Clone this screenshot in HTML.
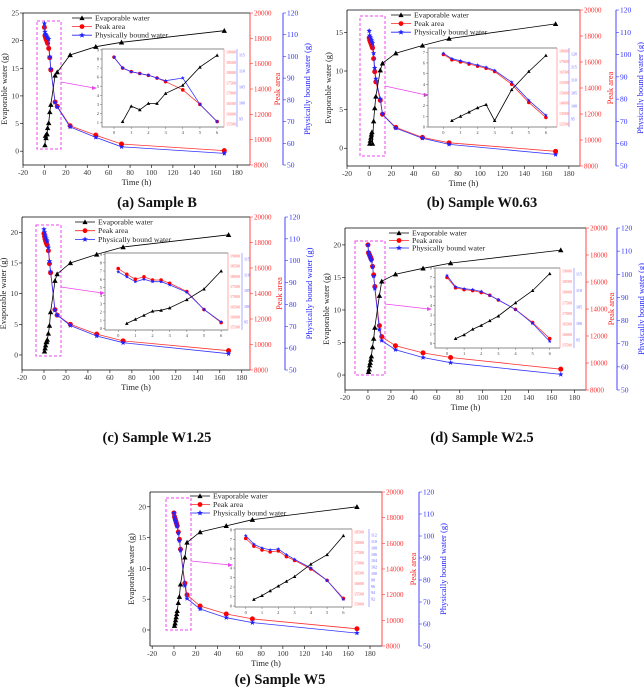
<!DOCTYPE html>
<html><head><meta charset="utf-8"><style>
body{margin:0;background:#fff;width:644px;height:691px;overflow:hidden}
svg{display:block}
text{font-family:"Liberation Serif",serif}
</style></head><body>
<svg id="s" width="644" height="691" viewBox="0 0 644 691" xmlns="http://www.w3.org/2000/svg"></svg>
<script>
const S=document.getElementById('s');let h='';
const T=[0,0.5,1,1.5,2,2.5,3,4,5,6,10,12,24,48,72,168];
const TI=[0,0.5,1,1.5,2,2.5,3,4,5,6];
function tri(x,y,s,c){return `<polygon points="${x},${y-s} ${x-s},${y+s*0.8} ${x+s},${y+s*0.8}" fill="${c}"/>`}
function star(x,y,r,c){let p=[];for(let i=0;i<10;i++){let a=-Math.PI/2+i*Math.PI/5,rr=i%2?r*0.45:r;p.push((x+rr*Math.cos(a)).toFixed(1)+','+(y+rr*Math.sin(a)).toFixed(1));}return `<polygon points="${p.join(' ')}" fill="${c}"/>`}
function series(pts,fx,fy,col,mk,sz){let d=pts.map(p=>fx(p[0]).toFixed(1)+','+fy(p[1]).toFixed(1)).join(' ');let o=`<polyline points="${d}" fill="none" stroke="${col}" stroke-width="0.8"/>`;pts.forEach(p=>{let x=fx(p[0]),y=fy(p[1]);if(mk=='t')o+=tri(x,y,sz,'#000');else if(mk=='c')o+=`<circle cx="${x}" cy="${y}" r="${sz}" fill="#f00"/>`;else o+=star(x,y,sz,'#22f');});return o}
function panel(c){
 const fx=t=>c.L+(t-c.xr[0])/(c.xr[1]-c.xr[0])*(c.R-c.L);
 const fy=v=>c.B-(v-c.yr[0])/(c.yr[1]-c.yr[0])*(c.B-c.T);
 h+=`<line x1="${c.L}" y1="${c.T}" x2="${c.R}" y2="${c.T}" stroke="#000" stroke-width="0.7"/>`;
 h+=`<line x1="${c.L}" y1="${c.T}" x2="${c.L}" y2="${c.B}" stroke="#000" stroke-width="0.8"/><line x1="${c.L}" y1="${c.B}" x2="${c.R}" y2="${c.B}" stroke="#000" stroke-width="0.8"/>`;
 h+=`<line x1="${c.R}" y1="${c.T}" x2="${c.R}" y2="${c.B}" stroke="#f33" stroke-width="0.9"/><line x1="${c.BX}" y1="${c.T}" x2="${c.BX}" y2="${c.B}" stroke="#33f" stroke-width="0.9"/>`;
 for(let t=-20;t<=180;t+=20){let x=fx(t);if(x<c.L-1)continue;h+=`<line x1="${x}" y1="${c.B}" x2="${x}" y2="${c.B+3}" stroke="#000" stroke-width="0.6"/><text x="${x}" y="${c.B+10}" font-size="7.5" text-anchor="middle" fill="#333">${t}</text>`;}
 for(let v=0;v<=25;v+=5){let y=fy(v);if(y<c.T-1)continue;h+=`<line x1="${c.L-3}" y1="${y}" x2="${c.L}" y2="${y}" stroke="#000" stroke-width="0.6"/><text x="${c.L-4}" y="${y+2.5}" font-size="7.5" text-anchor="end" fill="#333">${v}</text>`;}
 for(let i=0;i<=6;i++){let y=c.B-i*(c.B-c.T)/6;h+=`<line x1="${c.R}" y1="${y}" x2="${c.R+3}" y2="${y}" stroke="#f33" stroke-width="0.6"/><text x="${c.R+4}" y="${y+2.5}" font-size="7" fill="#f33">${8000+i*2000}</text>`;}
 for(let i=0;i<=7;i++){let y=c.B-i*(c.B-c.T)/7;h+=`<line x1="${c.BX}" y1="${y}" x2="${c.BX+3}" y2="${y}" stroke="#33f" stroke-width="0.6"/><text x="${c.BX+4}" y="${y+2.5}" font-size="7.5" fill="#33f">${50+i*10}</text>`;}
 let cy=(c.T+c.B)/2;
 h+=`<text transform="translate(${c.L-16},${cy}) rotate(-90)" font-size="8.5" text-anchor="middle" fill="#222">Evaporable water (g)</text>`;
 h+=`<text transform="translate(${c.BX-3},${cy}) rotate(-90)" font-size="8.5" text-anchor="middle" fill="#f22">Peak area</text>`;
 h+=`<text transform="translate(${c.BX+27},${cy}) rotate(-90)" font-size="8.5" text-anchor="middle" fill="#22f">Physically bound water (g)</text>`;
 h+=`<text x="${(c.L+c.R)/2}" y="${c.B+20}" font-size="8.5" text-anchor="middle" fill="#222">Time (h)</text>`;
 h+=`<text x="${c.tx}" y="${c.ty}" font-size="14.5" font-weight="bold" text-anchor="middle" fill="#111">${c.title}</text>`;
 const lg=[['Evaporable water','#000','t'],['Peak area','#f22','c'],['Physically bound water','#22f','s']];
 lg.forEach((l,i)=>{let y=c.lg[1]+i*c.lg[2],x=c.lg[0];h+=`<line x1="${x}" y1="${y}" x2="${x+20}" y2="${y}" stroke="${l[1]}" stroke-width="0.8"/>`;h+=l[2]=='t'?tri(x+10,y,2.6,'#000'):l[2]=='c'?`<circle cx="${x+10}" cy="${y}" r="2.4" fill="#f00"/>`:star(x+10,y,3,'#22f');h+=`<text x="${x+23}" y="${y+2.5}" font-size="7.8" fill="#222">${l[0]}</text>`;});
 let d=c.dash;h+=`<rect x="${d[0]}" y="${d[1]}" width="${d[2]-d[0]}" height="${d[3]-d[1]}" fill="none" stroke="#e4e" stroke-width="1" stroke-dasharray="3,2"/>`;
 let a=c.arr;h+=`<line x1="${a[0]}" y1="${a[1]}" x2="${a[2]-3}" y2="${a[3]}" stroke="#e4e" stroke-width="0.8"/><polygon points="${a[2]},${a[3]} ${a[2]-5},${a[3]-2} ${a[2]-5},${a[3]+2}" fill="#e4e"/>`;
 const sp=(v,ts)=>v.map((y,i)=>[ts[i],y]);
 h+=series(sp(c.red,T),fx,fy,'#f33','c',2.5);
 h+=series(sp(c.blue,T),fx,fy,'#33f','s',2.8);
 h+=series(sp(c.ev,T.slice(1)),fx,fy,'#000','t',2.7);
 let n=c.in;const gx=t=>n.L+(t-n.xr[0])/(n.xr[1]-n.xr[0])*(n.R-n.L);const gy=v=>n.B-(v-n.yr[0])/(n.yr[1]-n.yr[0])*(n.B-n.T);
 h+=`<rect x="${n.L}" y="${n.T}" width="${n.BX-n.L}" height="${n.B-n.T}" fill="#fff"/>`;
 h+=`<polyline points="${n.R},${n.T} ${n.L},${n.T} ${n.L},${n.B} ${n.R},${n.B}" fill="none" stroke="#666" stroke-width="0.7"/>`;
 h+=`<line x1="${n.R}" y1="${n.T}" x2="${n.R}" y2="${n.B}" stroke="#f88" stroke-width="0.7"/><line x1="${n.BX}" y1="${n.T}" x2="${n.BX}" y2="${n.B}" stroke="#88f" stroke-width="0.7"/>`;
 for(let t=0;t<=6;t++){let x=gx(t);h+=`<line x1="${x}" y1="${n.B}" x2="${x}" y2="${n.B+2}" stroke="#666" stroke-width="0.5"/><text x="${x}" y="${n.B+7}" font-size="4.5" text-anchor="middle" fill="#444">${t}</text>`;}
 for(let v=0;v<=9;v++){let y=gy(v);if(y<n.T-1||y>n.B+1)continue;h+=`<line x1="${n.L-2}" y1="${y}" x2="${n.L}" y2="${y}" stroke="#666" stroke-width="0.5"/><text x="${n.L-3}" y="${y+1.6}" font-size="4.5" text-anchor="end" fill="#444">${v}</text>`;}
 n.rl.forEach((l,i)=>{let y=n.B-3-i*(n.B-n.T-6)/(n.rl.length-1);h+=`<text x="${n.R+2}" y="${y+1.6}" font-size="4" fill="#f66">${l}</text>`;});
 n.bl.forEach((l,i)=>{let y=n.B-8-i*(n.B-n.T-14)/(n.bl.length-1);h+=`<text x="${n.BX+2}" y="${y+1.6}" font-size="4" fill="#66f">${l}</text>`;});
 h+=series(sp(n.red,TI),gx,gy,'#f33','c',1.8);
 h+=series(sp(n.blue,TI),gx,gy,'#33f','s',2);
 h+=series(sp(n.ev,TI.slice(1)),gx,gy,'#000','t',1.8);
}
const R8=(a,s)=>{let r=[];for(let i=0;i<8;i++)r.push(a+i*s);return r};
panel({L:23,R:250,T:13,B:165,BX:283,xr:[-20,192],yr:[-2.5,25],lg:[72,18,8.6],dash:[37,21,61,149],arr:[61,82,97,88],title:'(a) Sample B',tx:157,ty:207,
 ev:[1.1,2.8,2.4,3.1,3.1,4.2,5.1,7.1,8.4,13.7,14.3,17.4,18.9,19.7,21.8],
 red:[22.4,20.9,20.6,20.3,20.1,19.8,19.5,18.6,16.9,14.7,8.9,8.1,4.6,2.9,1.3,0.1],
 blue:[23.1,21.6,21.2,21.0,20.8,20.6,20.5,20.3,17.1,14.9,8.8,8.0,4.4,2.5,0.8,-0.4],
 in:{L:102,R:224,T:49,B:127,BX:237,xr:[-0.7,6.4],yr:[0.5,9.1],rl:R8(15500,500),bl:[95,100,105,110,115],
 ev:[1.1,2.8,2.4,3.1,3.1,4.2,5.1,7.1,8.4],red:[8.2,7.0,6.6,6.4,6.2,5.9,5.5,4.6,3.0,1.1],blue:[8.2,7.0,6.6,6.4,6.2,5.9,5.6,5.9,3.0,1.1]}});
panel({L:347,R:580,T:10,B:166,BX:616,xr:[-20,190],yr:[-2.3,17.9],lg:[391,15,8.6],dash:[360,16,385,156],arr:[385,86,429,95],title:'(b) Sample W0.63',tx:482,ty:207,
 ev:[0.6,1.0,1.4,1.8,2.1,0.6,3.5,5.2,6.7,10.1,11.0,12.3,13.3,14.2,16.1],
 red:[14.3,14.0,13.8,13.6,13.4,13.2,13.0,11.6,9.9,8.6,6.2,4.4,2.7,1.4,0.7,-0.4],
 blue:[15.2,14.6,14.4,14.2,14.0,13.8,13.6,12.3,10.4,9.0,6.4,4.4,2.6,1.3,0.5,-0.8],
 in:{L:428,R:557,T:48,B:127,BX:569,xr:[-0.9,6.65],yr:[0,7.4],rl:R8(12500,750).map(v=>Math.round(v/500)*500),bl:[95,100,105,110,115,120],
 ev:[0.6,1.0,1.4,1.8,2.1,0.6,3.5,5.2,6.7],red:[6.8,6.3,6.1,5.9,5.7,5.5,5.2,4.0,2.3,0.9],blue:[6.9,6.4,6.2,6.0,5.8,5.6,5.3,4.2,2.5,1.1]}});
panel({L:22,R:250,T:217,B:370,BX:285,xr:[-20,187.5],yr:[-2.45,22.5],lg:[75,222,8.7],dash:[36,225,61,356],arr:[61,287,105,293],title:'(c) Sample W1.25',tx:157,ty:442,
 ev:[0.6,1.1,1.6,2.1,2.2,2.5,3.5,4.8,7.0,12.1,13.2,15.0,16.4,17.6,19.6],
 red:[19.8,19.3,18.9,18.6,18.3,18.1,17.9,17.0,14.9,13.4,7.4,6.5,5.0,3.4,2.3,0.7],
 blue:[20.5,20.0,19.6,19.3,19.0,18.7,18.5,17.5,15.3,13.6,7.3,6.5,4.8,3.1,2.0,0.2],
 in:{L:105,R:228,T:253,B:330,BX:242,xr:[-0.77,6.4],yr:[-0.2,9.2],rl:R8(15500,500),bl:[95,100,105,110,115],
 ev:[0.6,1.1,1.6,2.1,2.2,2.5,3.5,4.8,7.0],red:[7.3,6.6,6.0,6.3,5.9,5.9,5.5,4.5,2.3,0.7],blue:[6.9,6.3,5.7,6.0,5.7,5.7,5.3,4.4,2.3,0.8]}});
panel({L:345,R:586,T:228,B:390,BX:617,xr:[-20,190],yr:[-2.3,22.6],lg:[389,233,7.5],dash:[355,241,385,375],arr:[385,304,432,309],title:'(d) Sample W2.5',tx:482,ty:442,
 ev:[0.5,0.9,1.5,1.9,2.4,2.9,4.3,5.6,7.3,12.2,14.4,15.5,16.4,17.2,19.2],
 red:[20,18.8,18.6,18.4,18.2,18.0,17.8,16.7,15.4,13.6,7.6,5.9,4.5,3.4,2.7,0.9],
 blue:[20,18.9,18.6,18.3,18.0,17.8,17.6,16.6,15.2,13.3,7.0,5.3,3.9,2.7,1.9,0.1],
 in:{L:435,R:560,T:268,B:348,BX:574,xr:[-0.7,6.6],yr:[-0.5,8],rl:R8(15500,500),bl:[95,100,105,110,115],
 ev:[0.5,0.9,1.5,1.9,2.4,2.9,4.3,5.6,7.4],red:[7.0,5.9,5.7,5.6,5.4,5.1,4.6,3.6,2.2,0.5],blue:[7.2,6.0,5.8,5.7,5.5,5.1,4.6,3.6,2.1,0.2]}});
panel({L:150,R:382,T:492,B:646,BX:419,xr:[-22,191],yr:[-2.6,22.4],lg:[190,496,8.5],dash:[166,498,191,630],arr:[191,561,233,565],title:'(e) Sample W5',tx:280,ty:684,
 ev:[0.7,1.1,1.6,2.1,2.6,3.1,4.4,5.4,7.4,11.8,14.2,15.9,16.9,17.9,20.0],
 red:[19.0,18.4,18.1,17.8,17.5,17.2,16.9,15.9,14.7,13.1,7.6,5.7,3.9,2.6,1.8,0.2],
 blue:[19.0,18.3,18.0,17.7,17.4,17.1,16.8,15.7,14.5,12.9,7.2,5.1,3.4,2.0,1.2,-0.5],
 in:{L:235,R:352,T:529,B:607,BX:369,xr:[-0.66,6.53],yr:[-0.1,8.1],rl:R8(15000,500),bl:[92,94,96,98,100,102,104,106,108,110,112],
 ev:[0.7,1.1,1.6,2.1,2.6,3.1,4.4,5.4,7.4],red:[7.1,6.3,5.9,5.7,5.8,5.2,4.8,3.9,2.7,0.8],blue:[7.4,6.5,6.1,5.9,6.0,5.4,4.9,4.0,2.7,0.7]}});
S.innerHTML=h;
</script>
</body></html>
